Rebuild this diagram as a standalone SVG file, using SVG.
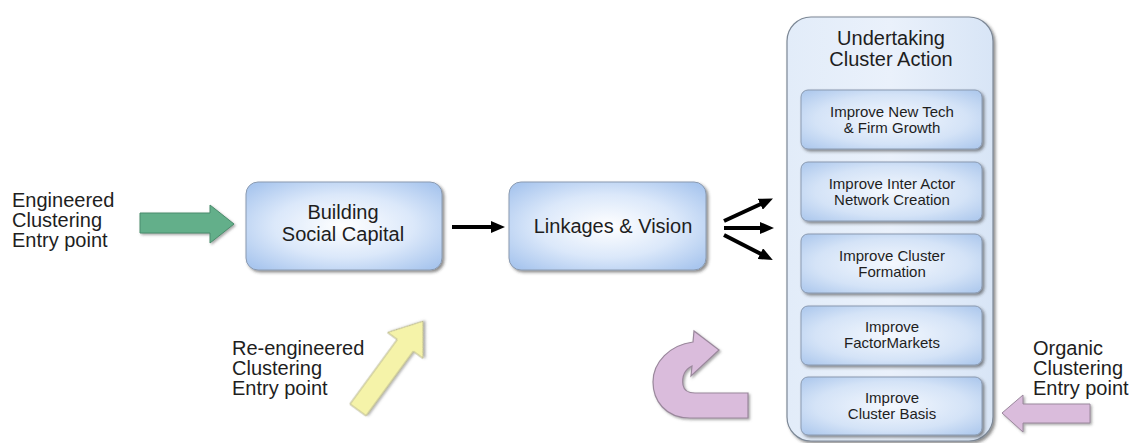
<svg xmlns="http://www.w3.org/2000/svg" width="1134" height="443" viewBox="0 0 1134 443">
<defs>
  <style>
    text { font-family: "Liberation Sans", Arial, sans-serif; fill: #1e1e1e; text-anchor: middle; }
    .side { font-size: 20px; text-anchor: start; }
    .big { font-size: 20px; }
    .small { font-size: 15px; }
    .box { stroke: #8a9ab0; stroke-width: 1; filter: url(#shadow); }
    .conn { stroke: #000; stroke-width: 4; fill: none; marker-end: url(#head); }
  </style>
  <radialGradient id="gMain" cx="50%" cy="50%" r="65%">
    <stop offset="0" stop-color="#ffffff"/>
    <stop offset="0.55" stop-color="#dbe8fa"/>
    <stop offset="1" stop-color="#a9c6ee"/>
  </radialGradient>
  <radialGradient id="gInner" cx="50%" cy="50%" r="70%">
    <stop offset="0" stop-color="#f4f8fe"/>
    <stop offset="0.6" stop-color="#d4e3f7"/>
    <stop offset="1" stop-color="#aac6ec"/>
  </radialGradient>
  <linearGradient id="gCol" x1="0" y1="0" x2="1" y2="0">
    <stop offset="0" stop-color="#e2ecf9"/>
    <stop offset="0.5" stop-color="#eaf1fb"/>
    <stop offset="1" stop-color="#d8e5f6"/>
  </linearGradient>
  <filter id="shadow" x="-10%" y="-10%" width="130%" height="130%">
    <feDropShadow dx="2" dy="2" stdDeviation="1.5" flood-color="#333" flood-opacity="0.55"/>
  </filter>
  <filter id="soft" x="-10%" y="-10%" width="130%" height="130%">
    <feDropShadow dx="1.5" dy="1.5" stdDeviation="1.2" flood-color="#555" flood-opacity="0.5"/>
  </filter>
  <marker id="head" markerUnits="userSpaceOnUse" markerWidth="14" markerHeight="12" viewBox="0 0 14 12" refX="3" refY="6" orient="auto">
    <path d="M0,0 L14,6 L0,12 Z" fill="#000"/>
  </marker>
</defs>
<rect width="1134" height="443" fill="#ffffff"/>

<g id="engineered-label">
  <text class="side" x="12" y="207">Engineered</text>
  <text class="side" x="12" y="227">Clustering</text>
  <text class="side" x="12" y="247">Entry point</text>
</g>
<g id="engineered-arrow">
  <path d="M140,213 L210,213 L210,205 L234,224 L210,243 L210,233 L140,233 Z" fill="#64af8a" stroke="#4a8c6c" stroke-width="1" filter="url(#soft)"/>
</g>

<g id="building">
  <rect class="box" x="246" y="182" width="196" height="88" rx="12" fill="url(#gMain)"/>
  <text class="big" x="343" y="219">Building</text>
  <text class="big" x="343" y="241">Social Capital</text>
</g>

<g id="linkages">
  <rect class="box" x="509" y="182" width="197" height="88" rx="12" fill="url(#gMain)"/>
  <text class="big" x="613" y="233">Linkages &amp; Vision</text>
</g>

<g id="cluster-action">
  <rect x="787" y="17" width="206" height="424" rx="24" fill="url(#gCol)" stroke="#7d8896" stroke-width="1.2" filter="url(#shadow)"/>
  <text class="big" x="891" y="45">Undertaking</text>
  <text class="big" x="891" y="66">Cluster Action</text>
</g>
<g id="new-tech">
  <rect class="box" x="801" y="90" width="181" height="59" rx="7" fill="url(#gInner)"/>
  <text class="small" x="892" y="117">Improve New Tech</text>
  <text class="small" x="892" y="133">&amp; Firm Growth</text>
</g>
<g id="inter-actor">
  <rect class="box" x="801" y="162" width="181" height="59" rx="7" fill="url(#gInner)"/>
  <text class="small" x="892" y="189">Improve Inter Actor</text>
  <text class="small" x="892" y="205">Network Creation</text>
</g>
<g id="cluster-formation">
  <rect class="box" x="801" y="234" width="181" height="59" rx="7" fill="url(#gInner)"/>
  <text class="small" x="892" y="261">Improve Cluster</text>
  <text class="small" x="892" y="277">Formation</text>
</g>
<g id="factor-markets">
  <rect class="box" x="801" y="306" width="181" height="59" rx="7" fill="url(#gInner)"/>
  <text class="small" x="892" y="332">Improve</text>
  <text class="small" x="892" y="348">FactorMarkets</text>
</g>
<g id="cluster-basis">
  <rect class="box" x="801" y="377" width="181" height="58" rx="7" fill="url(#gInner)"/>
  <text class="small" x="892" y="403">Improve</text>
  <text class="small" x="892" y="419">Cluster Basis</text>
</g>

<g id="connectors">
  <line class="conn" x1="452" y1="227" x2="494" y2="227"/>
  <line class="conn" x1="724" y1="221" x2="763" y2="203"/>
  <line class="conn" x1="724" y1="228" x2="763" y2="228"/>
  <line class="conn" x1="724" y1="235" x2="763" y2="255"/>
</g>

<g id="reengineered-label">
  <text class="side" x="232" y="355">Re-engineered</text>
  <text class="side" x="232" y="375">Clustering</text>
  <text class="side" x="232" y="395">Entry point</text>
</g>
<g id="reengineered-arrow">
  <path d="M0,-10 L80,-10 L80,-22 L110,0 L80,22 L80,10 L0,10 Z" transform="translate(358,410) rotate(-53.8)" fill="#f5f3a9" stroke="#b9b78e" stroke-width="1" filter="url(#soft)"/>
</g>

<g id="uturn-arrow">
  <path d="M748,418 L690,418 C665,418 653,400 653,382 C653,362 670,345 693,342 L694,331 L719,350 L691,376 L692,366 C684,370 682,378 683,385 C684,391 688,393 695,393 L748,393 Z" fill="#dabcdc" stroke="#9a889c" stroke-width="1.2" filter="url(#soft)"/>
</g>

<g id="organic-label">
  <text class="side" x="1033" y="355">Organic</text>
  <text class="side" x="1033" y="375">Clustering</text>
  <text class="side" x="1033" y="395">Entry point</text>
</g>
<g id="organic-arrow">
  <path d="M1090,404 L1023,404 L1023,395 L1002,413 L1023,432 L1023,423 L1090,423 Z" fill="#dabcdc" stroke="#9a889c" stroke-width="1" filter="url(#soft)"/>
</g>
</svg>
